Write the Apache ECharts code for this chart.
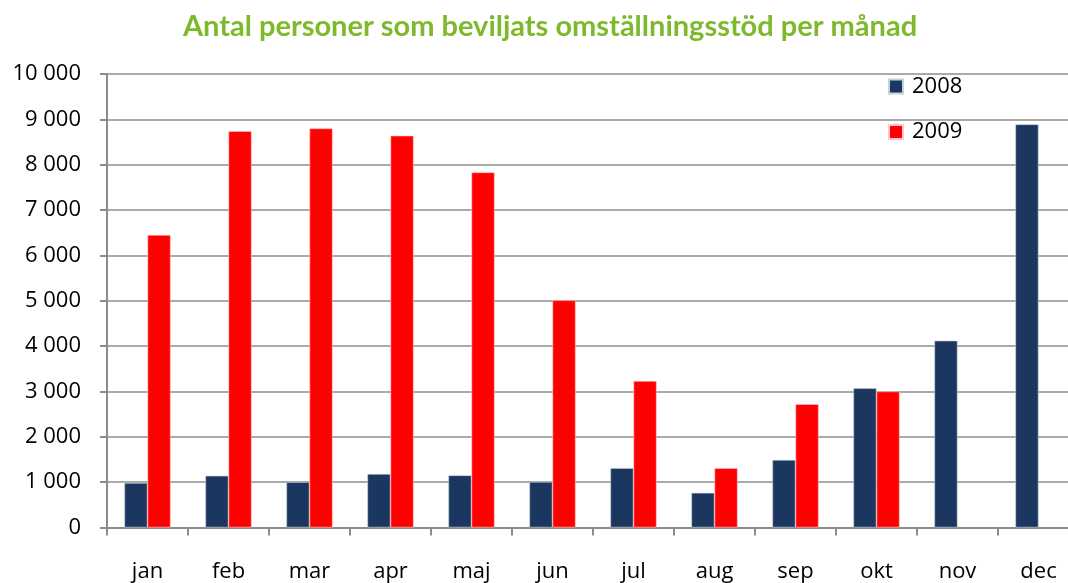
<!DOCTYPE html>
<html>
<head>
<meta charset="utf-8">
<script src="https://cdn.jsdelivr.net/npm/echarts@6/dist/echarts.min.js"></script>
<style>
html,body{margin:0;padding:0;background:#fff;overflow:hidden;}
#chart{width:1068px;height:583px;}
</style>
</head>
<body>
<div id="chart"></div>
<script>
const titleText = 'Antal personer som beviljats omställningsstöd per månad';
const months = ['jan','feb','mar','apr','maj','jun','jul','aug','sep','okt','nov','dec'];
const seriesNames = ['2008','2009'];
const values2008 = [985, 1140, 1000, 1180, 1150, 1005, 1310, 765, 1490, 3070, 4120, 8890];
const values2009 = [6450, 8740, 8800, 8640, 7830, 5010, 3230, 1310, 2720, 3000, null, null];
const yTicks = { min: 0, max: 10000, interval: 1000 };

const fmt = v => String(v).replace(/\B(?=(\d{3})+(?!\d))/g, ' ');
const chart = echarts.init(document.getElementById('chart'), null, {renderer:'canvas'});
chart.setOption({
  animation: false,
  backgroundColor: '#ffffff',
  title: {
    text: titleText,
    left: 545,
    textAlign: 'center',
    top: 7,
    textStyle: { fontFamily: 'Lato', fontWeight: 'bold', fontSize: 29, color: '#7db92a' }
  },
  legend: {
    orient: 'vertical',
    left: 888,
    top: 75.5,
    padding: 0,
    itemWidth: 14,
    itemHeight: 14,
    itemGap: 23.5,
    icon: 'rect',
    data: seriesNames,
    textStyle: { fontFamily: 'Open Sans', fontSize: 22, color: '#000', lineHeight: 22, padding: [0,0,0,4] }
  },
  grid: { left: 107, top: 74, height: 453.5, width: 972, containLabel: false, outerBoundsMode: 'none' },
  xAxis: {
    type: 'category',
    data: months,
    axisLine: { lineStyle: { color: '#8c8c8c', width: 2 } },
    axisTick: { show: true, length: 8, lineStyle: { color: '#8c8c8c', width: 2 } },
    axisLabel: { fontFamily: 'Open Sans', fontSize: 22, color: '#000', margin: 33 },
    splitLine: { show: false }
  },
  yAxis: {
    type: 'value',
    min: yTicks.min, max: yTicks.max, interval: yTicks.interval,
    axisLine: { show: true, lineStyle: { color: '#8c8c8c', width: 2 } },
    axisTick: { show: true, length: 7, lineStyle: { color: '#8c8c8c', width: 2 } },
    axisLabel: { fontFamily: 'Open Sans', fontSize: 22, color: '#000', margin: 26, formatter: fmt },
    splitLine: { show: true, lineStyle: { color: '#8e8e8e', width: 1.5 } }
  },
  series: [
    { name: seriesNames[0], type: 'bar', data: values2008, barGap: '0%', barCategoryGap: '43%',
      itemStyle: { color: '#1b365f', borderColor: '#c8d0dc', borderWidth: 0.6 } },
    { name: seriesNames[1], type: 'bar', data: values2009, barGap: '0%', barCategoryGap: '43%',
      itemStyle: { color: '#ff0000', borderColor: '#ffc8c8', borderWidth: 0.6 } }
  ]
});
</script>
</body>
</html>
